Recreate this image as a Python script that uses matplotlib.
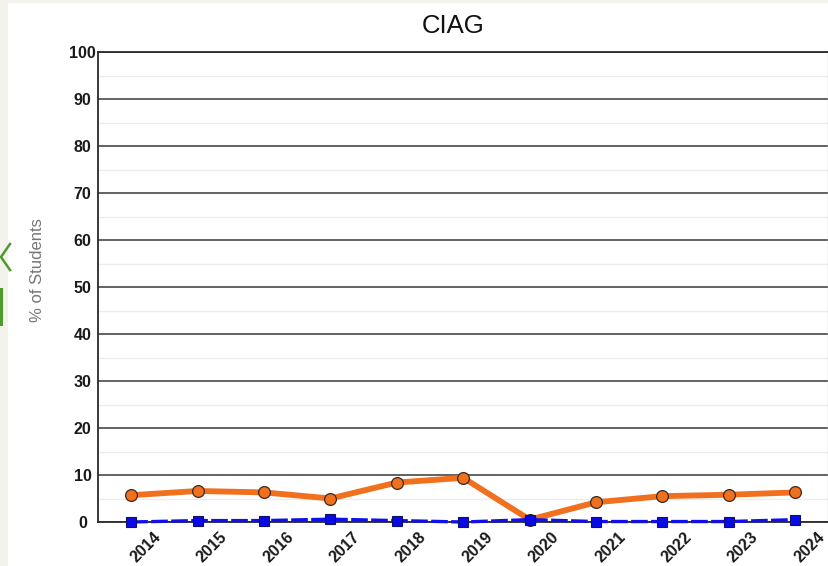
import numpy as np
import matplotlib.pyplot as plt
import matplotlib.transforms as mtransforms
from matplotlib.patches import Rectangle
from matplotlib.lines import Line2D

years = ['2014', '2015', '2016', '2017', '2018', '2019',
         '2020', '2021', '2022', '2023', '2024']
orange_vals = [5.7, 6.6, 6.3, 5.0, 8.4, 9.4, 0.5, 4.2, 5.5, 5.8, 6.3]
blue_vals = [0.0, 0.3, 0.3, 0.6, 0.3, 0.0, 0.5, 0.1, 0.1, 0.1, 0.5]
y_ticks = [0, 10, 20, 30, 40, 50, 60, 70, 80, 90, 100]

W, H = 829, 566
fig = plt.figure(figsize=(W / 100, H / 100), dpi=100)
fig.patch.set_facecolor('#f3f2ec')

# white page panel behind the chart
fig.patches.append(Rectangle((8 / W, 0), 1 - 8 / W, 1 - 3 / H,
                             transform=fig.transFigure, facecolor='white',
                             edgecolor='none', zorder=-5))
# bits of the green page furniture on the far left
fig.lines.append(Line2D([10 / W, 1 / W, 10 / W],
                        [1 - 244 / H, 1 - 257 / H, 1 - 270 / H],
                        transform=fig.transFigure, color='#4f9a2c', lw=1.8))
fig.patches.append(Rectangle((0, 1 - 326 / H), 3.5 / W, 38 / H,
                             transform=fig.transFigure, facecolor='#4f9a2c',
                             edgecolor='none'))

ax = fig.add_axes([98 / W, 1 - 522 / H, 730.5 / W, 470 / H])
ax.set_facecolor('white')

x = np.arange(len(years))
ax.plot(x, orange_vals, color='#f0701e', lw=4.2, marker='o', markersize=8.5,
        markerfacecolor='#f0701e', markeredgecolor='#3a2a20',
        markeredgewidth=0.9, zorder=3, clip_on=False)
ax.plot(x, blue_vals, color='#1010e8', lw=2.4, linestyle=(0, (5, 1)),
        marker='s', markersize=7.5, markerfacecolor='#0a0ae6',
        markeredgecolor='#10106a', markeredgewidth=0.8, zorder=4,
        clip_on=False)

ax.set_xlim(-0.5, len(years) - 0.5)
ax.set_ylim(0, 100)

ax.set_yticks(y_ticks)
ax.set_yticks(np.arange(5, 100, 10), minor=True)
ax.grid(True, which='major', axis='y', color='#383838', lw=1.1, zorder=1)
ax.grid(True, which='minor', axis='y', color='#ececec', lw=1.0, zorder=1)
ax.tick_params(axis='y', which='both', length=0)
ax.tick_params(axis='y', which='major', pad=11)
ax.set_yticklabels([str(v) for v in y_ticks], fontsize=11.5,
                   fontweight='bold', color='#1a1a1a',
                   family='Liberation Sans', ha='center')

ax.set_xticks(x)
ax.set_xticklabels(years, rotation=45, fontsize=11.5, fontweight='bold',
                   color='#1a1a1a', family='Liberation Sans',
                   ha='center', va='top')
ax.tick_params(axis='x', length=0, pad=5)
shift = mtransforms.ScaledTranslation(14.5 / 100, 0, fig.dpi_scale_trans)
for lab in ax.get_xticklabels():
    lab.set_transform(lab.get_transform() + shift)

for side in ['left', 'bottom', 'top']:
    ax.spines[side].set_color('#2a2a2a')
    ax.spines[side].set_linewidth(1.3)
ax.spines['right'].set_color('#cccccc')
ax.spines['right'].set_linewidth(1.0)

fig.text(453 / W, 1 - 26 / H, 'CIAG', fontsize=18.5, family='Liberation Sans',
         color='#111111', ha='center', va='center')
fig.text(37 / W, 1 - 270 / H, '% of Students', fontsize=12,
         family='Liberation Sans', color='#777777', rotation=90,
         ha='center', va='center')

fig.savefig('out.png', dpi=100, facecolor=fig.get_facecolor())
